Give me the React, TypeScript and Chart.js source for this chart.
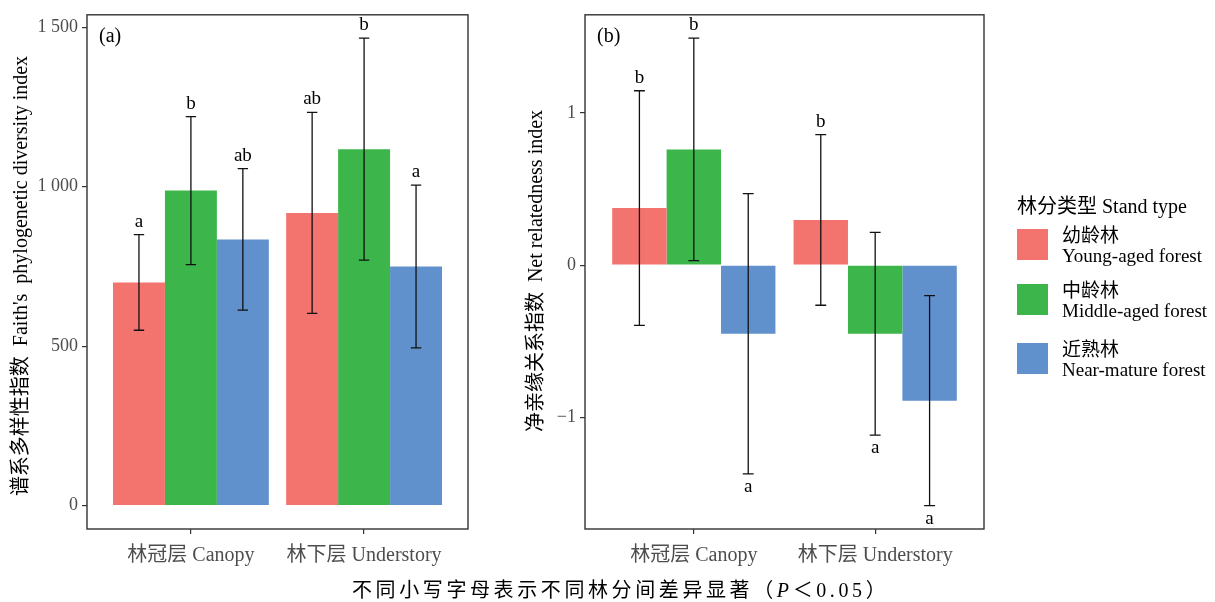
import React, { useEffect, useRef } from "react";
import { Chart, registerables } from "chart.js";
Chart.register(...registerables);

// ---------- data ----------
const categories = ["林冠层 Canopy", "林下层 Understory"];
const categoryPos = [1, 2];
const seriesNames = ["幼龄林", "中龄林", "近熟林"];
const seriesNamesEn = ["Young-aged forest", "Middle-aged forest", "Near-mature forest"];
const seriesColors = ["#F3736F", "#3CB64A", "#6191CC"];

// Panel (a): Faith's phylogenetic diversity index
const pdYoung = [700, 918];
const pdMiddle = [988, 1118];
const pdNear = [835, 750];
const pdYoungSD = [150, 315];
const pdMiddleSD = [232, 348];
const pdNearSD = [222, 255];
const pdYoungLetters = ["a", "ab"];
const pdMiddleLetters = ["b", "b"];
const pdNearLetters = ["ab", "a"];
const pdTicks = [0, 500, 1000, 1500];
const pdTickLabels = ["0", "500", "1 000", "1 500"];

// Panel (b): Net relatedness index
const nriYoung = [0.375, 0.297];
const nriMiddle = [0.76, -0.45];
const nriNear = [-0.45, -0.889];
const nriYoungSD = [0.77, 0.56];
const nriMiddleSD = [0.73, 0.665];
const nriNearSD = [0.92, 0.689];
const nriYoungLetters = ["b", "b"];
const nriMiddleLetters = ["b", "a"];
const nriNearLetters = ["a", "a"];
const nriTicks = [-1, 0, 1];
const nriTickLabels = ["−1", "0", "1"];

// ---------- helpers ----------
const FONT = "'Liberation Serif', 'Noto Sans CJK SC', serif";
const W = 1215;
const H = 602;

function makeDatasets(means: number[][], sds: number[][], letters: string[][]) {
  return means.map((m, si) => ({
    label: seriesNames[si],
    data: m.map((v, i) => ({ x: categoryPos[i], y: v })),
    backgroundColor: seriesColors[si],
    borderWidth: 0,
    sd: sds[si],
    letters: letters[si],
  }));
}

function rangeOf(means: number[][], sds: number[][]) {
  let lo = 0;
  let hi = 0;
  means.forEach((m, si) =>
    m.forEach((v, i) => {
      lo = Math.min(lo, v - sds[si][i]);
      hi = Math.max(hi, v + sds[si][i]);
    })
  );
  const e = (hi - lo) * 0.05;
  return [lo - e, hi + e];
}

const decoPlugin = {
  id: "panelDeco",
  afterDatasetsDraw(chart: any, _args: any, opts: any) {
    const ctx = chart.ctx;
    const ys = chart.scales.y;
    ctx.save();
    chart.data.datasets.forEach((ds: any, di: number) => {
      const meta = chart.getDatasetMeta(di);
      meta.data.forEach((bar: any, i: number) => {
        const m = ds.data[i].y;
        const sd = ds.sd[i];
        const top = ys.getPixelForValue(m + sd);
        const bot = ys.getPixelForValue(m - sd);
        const half = bar.width * 0.1;
        ctx.strokeStyle = "#111";
        ctx.lineWidth = 1.3;
        ctx.beginPath();
        ctx.moveTo(bar.x, top);
        ctx.lineTo(bar.x, bot);
        ctx.moveTo(bar.x - half, top);
        ctx.lineTo(bar.x + half, top);
        ctx.moveTo(bar.x - half, bot);
        ctx.lineTo(bar.x + half, bot);
        ctx.stroke();
        ctx.fillStyle = "#000";
        ctx.font = `19px ${FONT}`;
        ctx.textAlign = "center";
        ctx.textBaseline = "alphabetic";
        if (m >= 0) ctx.fillText(ds.letters[i], bar.x, top - 8);
        else ctx.fillText(ds.letters[i], bar.x, bot + 18);
      });
    });
    const a = chart.chartArea;
    ctx.strokeStyle = "#333";
    ctx.lineWidth = 1.4;
    ctx.strokeRect(a.left, a.top, a.right - a.left, a.bottom - a.top);
    ctx.fillStyle = "#000";
    ctx.font = `20px ${FONT}`;
    ctx.textAlign = "left";
    ctx.textBaseline = "middle";
    ctx.fillText(opts.tag, a.left + 12, a.top + 22);
    ctx.restore();
  },
};

function makeConfig(
  datasets: any[],
  yr: number[],
  ticks: number[],
  tickLabels: string[],
  yWidth: number,
  padLeft: number,
  padRight: number,
  tag: string
) {
  const grid = {
    display: true,
    drawOnChartArea: false,
    drawTicks: true,
    tickLength: 5,
    color: "#333",
    lineWidth: 1.2,
    offset: false,
  };
  return {
    type: "bar",
    data: { datasets },
    options: {
      animation: false,
      responsive: false,
      events: [],
      layout: { padding: { left: padLeft, right: padRight, top: 14, bottom: 0 } },
      datasets: { bar: { categoryPercentage: 0.9, barPercentage: 1.0 } },
      plugins: {
        legend: { display: false },
        tooltip: { enabled: false },
        panelDeco: { tag },
      },
      scales: {
        x: {
          type: "linear",
          min: 0.4,
          max: 2.6,
          offset: false,
          afterBuildTicks: (s: any) => {
            s.ticks = categoryPos.map((v) => ({ value: v }));
          },
          afterFit: (s: any) => {
            s.height = 73;
          },
          ticks: {
            autoSkip: false,
            maxRotation: 0,
            padding: 10,
            color: "#4d4d4d",
            font: { family: FONT, size: 20 },
            callback: (_v: any, i: number) => categories[i],
          },
          grid,
          border: { display: false },
        },
        y: {
          type: "linear",
          min: yr[0],
          max: yr[1],
          afterBuildTicks: (s: any) => {
            s.ticks = ticks.map((v) => ({ value: v }));
          },
          afterFit: (s: any) => {
            s.width = yWidth;
          },
          ticks: {
            autoSkip: false,
            padding: 4,
            color: "#4d4d4d",
            font: { family: FONT, size: 18 },
            callback: (_v: any, i: number) => tickLabels[i],
          },
          grid,
          border: { display: false },
        },
      },
    },
    plugins: [decoPlugin],
  };
}

function ChartCanvas({ config }: { config: any }) {
  const ref = useRef<HTMLCanvasElement | null>(null);
  useEffect(() => {
    if (!ref.current) return;
    const c = new Chart(ref.current, config);
    return () => c.destroy();
  }, []);
  return (
    <canvas
      ref={ref}
      width={W}
      height={H}
      style={{ position: "absolute", left: 0, top: 0, width: W, height: H }}
    />
  );
}

export default function App() {
  const pdMeans = [pdYoung, pdMiddle, pdNear];
  const pdSDs = [pdYoungSD, pdMiddleSD, pdNearSD];
  const nriMeans = [nriYoung, nriMiddle, nriNear];
  const nriSDs = [nriYoungSD, nriMiddleSD, nriNearSD];
  const cfgA = makeConfig(
    makeDatasets(pdMeans, pdSDs, [pdYoungLetters, pdMiddleLetters, pdNearLetters]),
    rangeOf(pdMeans, pdSDs),
    pdTicks,
    pdTickLabels,
    87,
    0,
    W - 468,
    "(a)"
  );
  const cfgB = makeConfig(
    makeDatasets(nriMeans, nriSDs, [nriYoungLetters, nriMiddleLetters, nriNearLetters]),
    rangeOf(nriMeans, nriSDs),
    nriTicks,
    nriTickLabels,
    80,
    505,
    W - 984,
    "(b)"
  );

  const rot = (cx: number, cy: number, text: string) => (
    <div
      style={{
        position: "absolute",
        left: cx - 300,
        top: cy - 12,
        width: 600,
        height: 24,
        lineHeight: "24px",
        textAlign: "center",
        whiteSpace: "pre",
        transform: "rotate(-90deg)",
        transformOrigin: "50% 50%",
        fontSize: 20,
        color: "#000",
      }}
    >
      {text}
    </div>
  );

  const keyTops = [229, 284, 343];

  return (
    <div
      style={{
        position: "absolute",
        left: 0,
        top: 0,
        width: W,
        height: H,
        background: "#fff",
        fontFamily: FONT,
        overflow: "hidden",
      }}
    >
      <ChartCanvas config={cfgA} />
      <ChartCanvas config={cfgB} />
      {rot(20, 276, "谱系多样性指数  Faith's  phylogenetic diversity index")}
      {rot(535, 271, "净亲缘关系指数  Net relatedness index")}
      <div
        style={{
          position: "absolute",
          left: 1017,
          top: 194,
          fontSize: 20,
          lineHeight: "24px",
          whiteSpace: "pre",
          color: "#000",
        }}
      >
        林分类型 Stand type
      </div>
      {seriesNames.map((n, i) => (
        <React.Fragment key={n}>
          <div
            style={{
              position: "absolute",
              left: 1017,
              top: keyTops[i],
              width: 31,
              height: 31,
              background: seriesColors[i],
            }}
          />
          <div
            style={{
              position: "absolute",
              left: 1062,
              top: keyTops[i] - 3,
              fontSize: 19,
              lineHeight: "20px",
              whiteSpace: "pre",
              color: "#000",
            }}
          >
            {n}
            <br />
            {seriesNamesEn[i]}
          </div>
        </React.Fragment>
      ))}
      <div
        style={{
          position: "absolute",
          left: 352,
          top: 578,
          fontSize: 20,
          lineHeight: "24px",
          letterSpacing: "3.6px",
          whiteSpace: "pre",
          color: "#000",
        }}
      >
        不同小写字母表示不同林分间差异显著（<i>P</i>＜0.05）
      </div>
    </div>
  );
}
